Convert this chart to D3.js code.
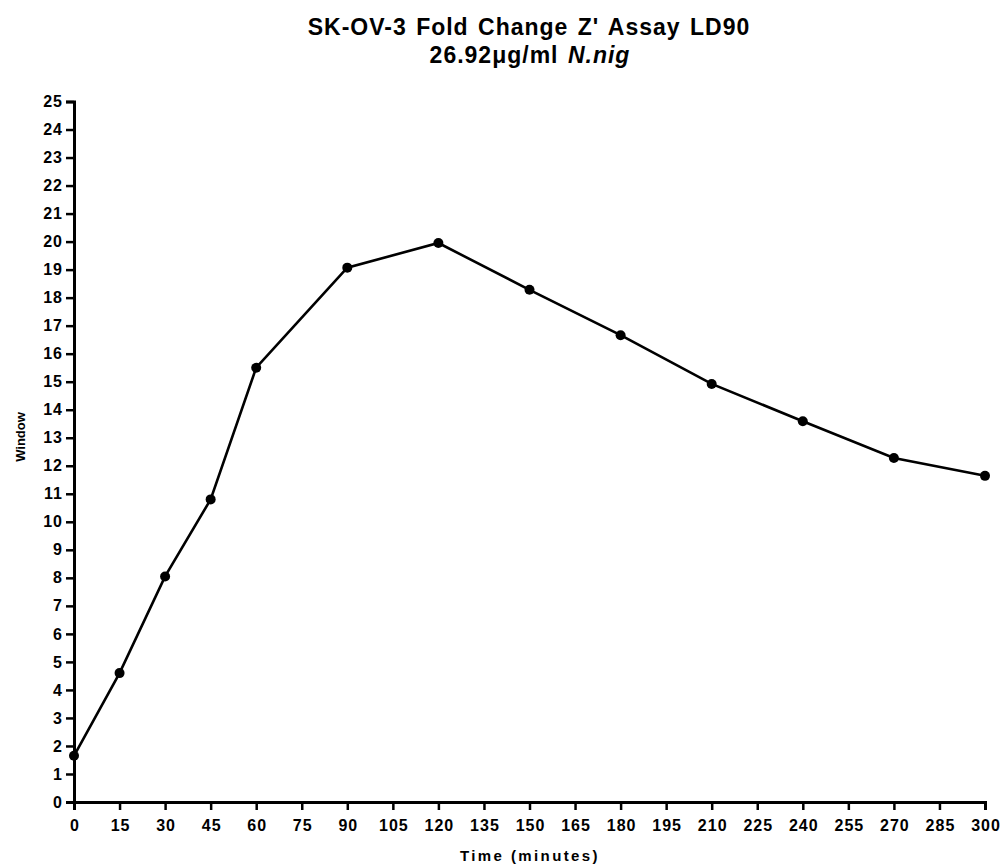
<!DOCTYPE html>
<html>
<head>
<meta charset="utf-8">
<script src="https://cdn.jsdelivr.net/npm/d3@7"></script>
<style>
  body { margin: 0; background: #fff; }
  text { font-family: Arial, "Liberation Sans", Helvetica, sans-serif; font-weight: bold; }
</style>
</head>
<body>
<div class="chart"></div>
<script>
// data
var timeMinutes = [0, 15, 30, 45, 60, 90, 120, 150, 180, 210, 240, 270, 300];
var windowValues = [1.65, 4.6, 8.05, 10.8, 15.5, 19.07, 19.95, 18.28, 16.66, 14.92, 13.59, 12.28, 11.64];
var xTicks = d3.range(0, 301, 15);
var yTicks = d3.range(0, 26, 1);

var W = 1002, H = 865;
var margin = {left: 74, right: 17, top: 101.5, bottom: 63};

var svg = d3.select(".chart").append("svg")
    .attr("width", W)
    .attr("height", H);

var x = d3.scaleLinear().domain([0, 300]).range([margin.left, W - margin.right]);
var y = d3.scaleLinear().domain([0, 25]).range([H - margin.bottom, margin.top]);

// axes
var xAxis = svg.append("g")
    .attr("transform", "translate(0," + y(0) + ")")
    .call(d3.axisBottom(x).tickValues(xTicks).tickSize(8).tickPadding(10).tickFormat(d3.format("d")));
var yAxis = svg.append("g")
    .attr("transform", "translate(" + x(0) + ",0)")
    .call(d3.axisLeft(y).tickValues(yTicks).tickSize(8).tickPadding(4).tickFormat(d3.format("d")));

[xAxis, yAxis].forEach(function(a) {
    a.select(".domain").attr("stroke-width", 3);
    a.selectAll(".tick line").attr("stroke-width", 2.5);
    a.selectAll(".tick text")
        .style("font-size", "16px")
        .style("letter-spacing", "1px")
        .attr("fill", "#000");
});
// letter-spacing pads the end of the string, pull x labels back to centre
xAxis.selectAll(".tick text").attr("dx", "0.5");
yAxis.selectAll(".tick text").attr("dx", "1");

// line + markers
var line = d3.line()
    .x(function(d, i) { return x(timeMinutes[i]); })
    .y(function(d) { return y(d); });

svg.append("path")
    .datum(windowValues)
    .attr("d", line)
    .attr("fill", "none")
    .attr("stroke", "#000")
    .attr("stroke-width", 2.6);

svg.selectAll("circle.pt").data(windowValues).enter()
    .append("circle")
    .attr("class", "pt")
    .attr("cx", function(d, i) { return x(timeMinutes[i]); })
    .attr("cy", function(d) { return y(d); })
    .attr("r", 5)
    .attr("fill", "#000");

// titles
var title = svg.append("text")
    .attr("text-anchor", "middle")
    .style("font-size", "23px")
    .style("letter-spacing", "1px")
    .style("word-spacing", "2px");
title.append("tspan").attr("x", 529).attr("y", 35).text("SK-OV-3 Fold Change Z' Assay LD90");
var t2 = title.append("tspan").attr("x", 530).attr("y", 63);
t2.append("tspan").text("26.92\u03bcg/ml ");
t2.append("tspan").style("font-style", "italic").text("N.nig");

svg.append("text")
    .attr("x", 530)
    .attr("y", 861)
    .attr("text-anchor", "middle")
    .style("font-size", "15px")
    .style("letter-spacing", "2.4px")
    .text("Time (minutes)");

svg.append("text")
    .attr("transform", "translate(25,437) rotate(-90)")
    .attr("text-anchor", "middle")
    .style("font-size", "13px")
    .text("Window");
</script>
</body>
</html>
